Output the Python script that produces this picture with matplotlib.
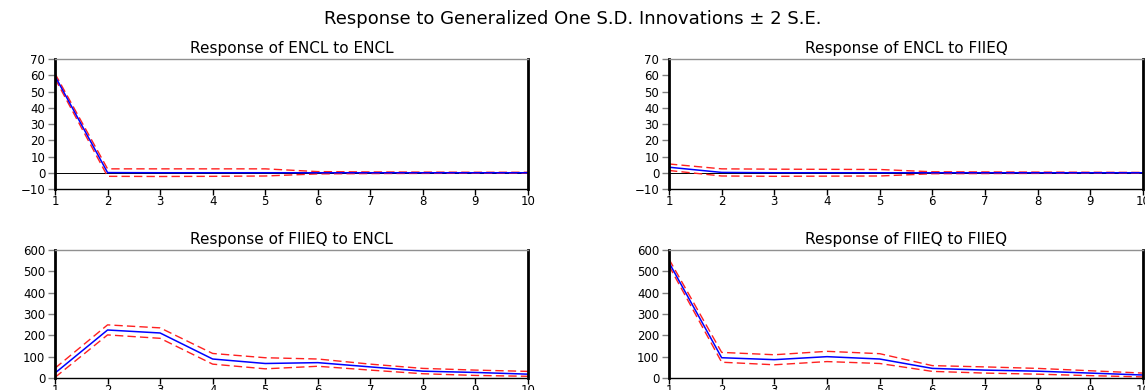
import matplotlib
matplotlib.use("Agg")
import matplotlib.pyplot as plt
import numpy as np

periods = list(range(1, 11))

# Response of ENCL to ENCL
encl_encl = [59.5, 0.1, 0.0, 0.0, 0.0, 0.0, 0.0, 0.0, 0.0, 0.0]
encl_encl_hi = [61.0, 2.4, 2.4, 2.4, 2.4, 0.7, 0.5, 0.4, 0.3, 0.3]
encl_encl_lo = [58.0, -2.2, -2.3, -2.2, -2.0, -0.7, -0.5, -0.4, -0.3, -0.3]

# Response of ENCL to FIIEQ
encl_fiieq = [3.4, 0.2, 0.0, 0.0, 0.0, 0.0, 0.0, 0.0, 0.0, 0.0]
encl_fiieq_hi = [5.4, 2.4, 2.2, 2.1, 2.0, 0.6, 0.5, 0.4, 0.3, 0.2]
encl_fiieq_lo = [1.4, -2.0, -2.2, -2.1, -2.0, -0.6, -0.5, -0.4, -0.3, -0.2]

# Response of FIIEQ to ENCL
fiieq_encl = [23, 225, 211, 89, 68, 72, 52, 32, 26, 18]
fiieq_encl_hi = [46, 249, 235, 115, 95, 89, 65, 45, 37, 31]
fiieq_encl_lo = [3, 202, 186, 65, 43, 55, 37, 20, 12, 8]

# Response of FIIEQ to FIIEQ
fiieq_fiieq = [541, 95, 86, 100, 89, 45, 37, 32, 23, 14]
fiieq_fiieq_hi = [557, 120, 109, 125, 114, 58, 52, 45, 34, 23]
fiieq_fiieq_lo = [526, 74, 62, 77, 68, 31, 23, 18, 11, 5]

titles = ["Response of ENCL to ENCL", "Response of ENCL to FIIEQ",
          "Response of FIIEQ to ENCL", "Response of FIIEQ to FIIEQ"]

plt.rcParams['font.family'] = ['DejaVu Sans']

fig = plt.figure(figsize=(11.45, 3.9), dpi=100)
fig.text(0.5, 0.95, "Response to Generalized One S.D. Innovations \u00b1 2 S.E.",
         ha='center', va='center', fontsize=13)

W, H = 1145.0, 390.0
boxes = [(55, 59, 528, 189), (669, 59, 1143, 189),
         (55, 250, 528, 378), (669, 250, 1143, 378)]
series = [(encl_encl, encl_encl_hi, encl_encl_lo),
          (encl_fiieq, encl_fiieq_hi, encl_fiieq_lo),
          (fiieq_encl, fiieq_encl_hi, fiieq_encl_lo),
          (fiieq_fiieq, fiieq_fiieq_hi, fiieq_fiieq_lo)]

for i, (box, (mid, hi, lo), title) in enumerate(zip(boxes, series, titles)):
    x0, y0, x1, y1 = box
    ax = fig.add_axes([x0 / W, 1 - y1 / H, (x1 - x0) / W, (y1 - y0) / H])
    ax.plot(periods, hi, color='#ff2020', lw=1.0, ls=(0, (6, 3)))
    ax.plot(periods, lo, color='#ff2020', lw=1.0, ls=(0, (6, 3)))
    ax.plot(periods, mid, color='#0000ff', lw=1.1)
    ax.set_xlim(1, 10)
    ax.set_xticks(periods)
    if i < 2:
        ax.axhline(0, color='black', lw=0.7, zorder=0)
        ax.set_ylim(-10, 70)
        ax.set_yticks(np.arange(-10, 71, 10))
    else:
        ax.set_ylim(0, 600)
        ax.set_yticks(np.arange(0, 601, 100))
    ax.set_title(title, fontsize=11, pad=4)
    ax.tick_params(axis='y', labelsize=8.5, length=5, width=1,
                   color='#808080', pad=2)
    ax.tick_params(axis='x', labelsize=8.5, length=4, width=1,
                   color='black', pad=0)
    ax.spines['left'].set_linewidth(2)
    ax.spines['right'].set_linewidth(2)
    ax.spines['top'].set_color('#909090')
    ax.spines['top'].set_linewidth(1)
    ax.spines['bottom'].set_linewidth(1)

fig.savefig("out.png", dpi=100)
